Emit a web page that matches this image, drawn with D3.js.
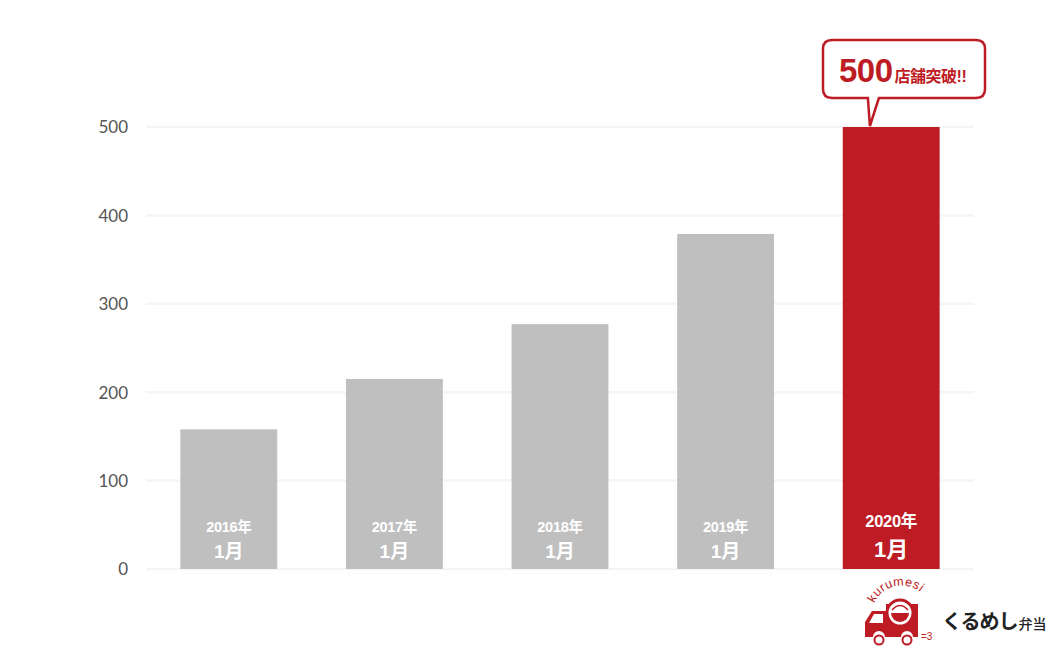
<!DOCTYPE html>
<html><head><meta charset="utf-8">
<script src="https://cdn.jsdelivr.net/npm/d3@7"></script>
<style>body{margin:0;background:#fff}svg{display:block}</style>
</head><body>
<svg id="c" width="1058" height="649"></svg>
<script>
const years = ["2016年","2017年","2018年","2019年","2020年"];
const months = ["1月","1月","1月","1月","1月"];
const stores = [158, 215, 277, 379, 500];
const yTicks = [0,100,200,300,400,500];
const calloutNum = "500";
const calloutText = "店舗突破!!";

const svg = d3.select("#c");
const red = "#be1c24", gray = "#bfbfbf";
const x = d3.scaleBand().domain(years).range([146, 974]).paddingInner(0.415).paddingOuter(0.2075);
const y = d3.scaleLinear().domain([0, 500]).range([569, 127]);

// gridlines
svg.append("g").selectAll("line").data(yTicks).join("line")
  .attr("x1", 146).attr("x2", 974).attr("y1", d => y(d)).attr("y2", d => y(d))
  .attr("stroke", "#f5f5f5").attr("stroke-width", 2.5);

// axis
const ax = svg.append("g").attr("transform", "translate(128,0)")
  .call(d3.axisLeft(y).tickValues(yTicks).tickSize(0).tickPadding(0));
ax.select(".domain").remove();
ax.selectAll("text").attr("font-family", "Lato, sans-serif").attr("font-size", 17)
  .attr("fill", "#555").attr("dy", "0.35em");

// bars
svg.append("g").selectAll("rect").data(stores).join("rect")
  .attr("x", (d, i) => x(years[i])).attr("width", x.bandwidth())
  .attr("y", d => y(d)).attr("height", d => y(0) - y(d))
  .attr("fill", (d, i) => i === stores.length - 1 ? red : gray);

// labels in bars
const lab = svg.append("g").attr("font-family", "'Liberation Sans', Arial, 'Noto Sans CJK JP', sans-serif")
  .attr("font-weight", "bold").attr("fill", "#fff").attr("text-anchor", "middle");
years.forEach((yr, i) => {
  const cx = x(yr) + x.bandwidth() / 2;
  const last = i === years.length - 1;
  lab.append("text").attr("x", cx).attr("y", last ? 527 : 532)
    .attr("font-size", last ? 16.5 : 14.5).attr("letter-spacing", "-0.3").text(yr);
  lab.append("text").attr("x", cx).attr("y", last ? 557 : 558)
    .attr("font-size", last ? 22 : 19).text(months[i]);
});

// callout
const tipX = x(years[4]) + x.bandwidth() * 0.28;
const bx0 = 823, bx1 = 985, by0 = 40, by1 = 98, r = 9;
const path = `M${bx0 + r},${by0} H${bx1 - r} Q${bx1},${by0} ${bx1},${by0 + r} V${by1 - r} Q${bx1},${by1} ${bx1 - r},${by1}
 H${tipX + 9} L${tipX},${y(500) - 1} L${tipX - 2},${by1} H${bx0 + r} Q${bx0},${by1} ${bx0},${by1 - r} V${by0 + r} Q${bx0},${by0} ${bx0 + r},${by0} Z`;
svg.append("path").attr("d", path).attr("fill", "#fff").attr("stroke", red).attr("stroke-width", 2.5);
const ct = svg.append("text").attr("x", 839).attr("y", 82).attr("fill", red)
  .attr("font-family", "'Liberation Sans', Arial, 'Noto Sans CJK JP', sans-serif").attr("font-weight", "bold");
ct.append("tspan").attr("font-size", 33).attr("letter-spacing", "-0.5").text(calloutNum);
ct.append("tspan").attr("font-size", 16).attr("dx", 2).attr("letter-spacing", "-0.5").text(calloutText);

// logo
const lg = svg.append("g");
lg.append("path").attr("fill", red)
  .attr("d", "M886,604 L886,611 L872,611 L865,622 L865,637 L873,637 A6,6 0 0 1 885,637 L901,637 A6,6 0 0 1 913,637 L918,637 L918,604 Z");
lg.append("path").attr("fill", "#fff").attr("d", "M874,614 L883,614 L883,623 L869,623 Z");
lg.append("circle").attr("cx", 879).attr("cy", 640).attr("r", 4.5).attr("fill", "#fff").attr("stroke", red).attr("stroke-width", 2);
lg.append("circle").attr("cx", 907).attr("cy", 640).attr("r", 4.5).attr("fill", "#fff").attr("stroke", red).attr("stroke-width", 2);
lg.append("circle").attr("cx", 900).attr("cy", 613).attr("r", 13).attr("fill", "#fff").attr("stroke", red).attr("stroke-width", 3);
lg.append("path").attr("fill", red).attr("d", "M891,613 A9,9 0 0 0 909,613 Z");
lg.append("path").attr("fill", "none").attr("stroke", red).attr("stroke-width", 1.5).attr("d", "M892,610 Q900,601 908,610");
lg.append("text").attr("x", 921).attr("y", 640).attr("font-size", 10).attr("fill", red)
  .attr("font-family", "sans-serif").text("=3");
lg.append("path").attr("id", "arc").attr("fill", "none").attr("d", "M872,611 A30,30 0 0 1 926,598");
lg.append("text").attr("font-size", 12.5).attr("font-family", "'Liberation Sans', Arial, sans-serif").attr("fill", red)
  .append("textPath").attr("href", "#arc").attr("startOffset", "50%").attr("text-anchor", "middle").attr("letter-spacing", "0.5").text("kurumesi");
const lt = lg.append("text").attr("x", 942).attr("y", 629).attr("fill", "#222")
  .attr("font-family", "'Noto Sans CJK JP', sans-serif");
lt.append("tspan").attr("font-size", 20).attr("font-weight", "bold").attr("letter-spacing", "-1").text("くるめし");
lt.append("tspan").attr("font-size", 14).attr("font-weight", "500").attr("dx", 1).text("弁当");
</script>
</body></html>
